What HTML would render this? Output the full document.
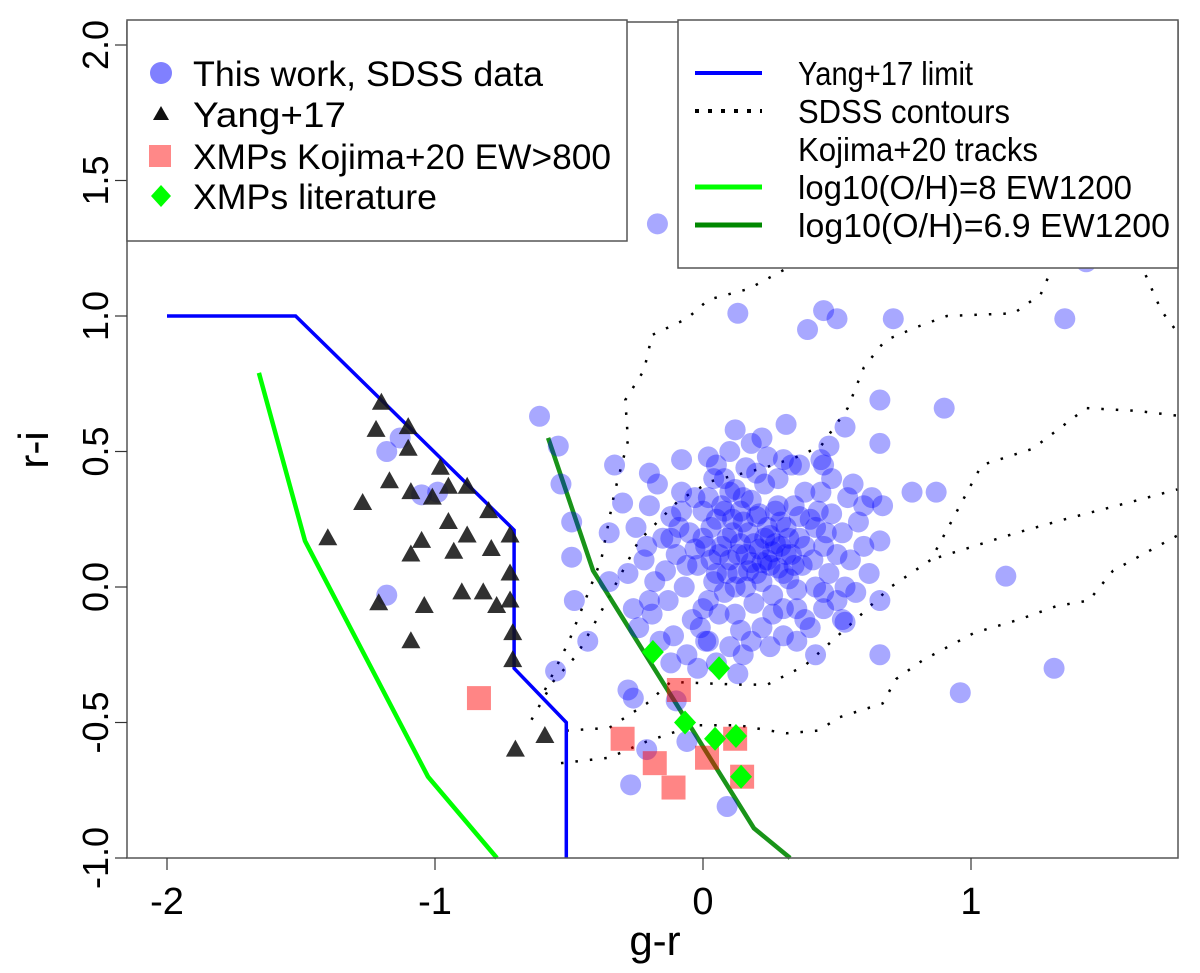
<!DOCTYPE html>
<html><head><meta charset="utf-8"><style>
html,body{margin:0;padding:0;background:#fff;}
svg{display:block;font-family:"Liberation Sans",sans-serif;}
</style></head><body>
<svg id="chart" width="1200" height="973" viewBox="0 0 1200 973">
<rect x="0" y="0" width="1200" height="973" fill="#fff"/>
<g id="contours"></g>
<g id="lines"></g>
<g id="circles"></g>
<g id="tris"></g>
<g id="squares"></g>
<g id="diamonds"></g>
<g id="axes"></g>
<g>
<rect x="127" y="20" width="500" height="221" fill="#fff" stroke="#555" stroke-width="1.5"/>
<circle cx="161" cy="73" r="11" fill="rgba(60,60,255,0.65)"/>
<text x="193" y="86" font-size="35" textLength="350" lengthAdjust="spacingAndGlyphs">This work, SDSS data</text>
<polygon points="161,106 153,120 169,120" fill="#111"/>
<text x="193" y="127" font-size="35" textLength="153" lengthAdjust="spacingAndGlyphs">Yang+17</text>
<rect x="149" y="145" width="22" height="22" fill="#f88" />
<text x="193" y="169" font-size="35" textLength="418" lengthAdjust="spacingAndGlyphs">XMPs Kojima+20 EW&gt;800</text>
<polygon points="161,185 171,196 161,207 151,196" fill="#0f0"/>
<text x="193" y="209" font-size="35" textLength="244" lengthAdjust="spacingAndGlyphs">XMPs literature</text>
</g>
<g>
<rect x="678" y="20" width="500" height="248" fill="#fff" stroke="#555" stroke-width="1.5"/>
<line x1="695" y1="73" x2="762" y2="73" stroke="#00f" stroke-width="4"/>
<text x="798" y="85" font-size="33" textLength="175" lengthAdjust="spacingAndGlyphs">Yang+17 limit</text>
<line x1="695" y1="111" x2="762" y2="111" stroke="#000" stroke-width="4" stroke-dasharray="4 9"/>
<text x="798" y="123" font-size="33" textLength="212" lengthAdjust="spacingAndGlyphs">SDSS contours</text>
<text x="798" y="161" font-size="33" textLength="240" lengthAdjust="spacingAndGlyphs">Kojima+20 tracks</text>
<line x1="695" y1="187" x2="762" y2="187" stroke="#0f0" stroke-width="5"/>
<text x="798" y="199" font-size="33" textLength="334" lengthAdjust="spacingAndGlyphs">log10(O/H)=8 EW1200</text>
<line x1="695" y1="225" x2="762" y2="225" stroke="#080" stroke-width="5"/>
<text x="798" y="237" font-size="33" textLength="372" lengthAdjust="spacingAndGlyphs">log10(O/H)=6.9 EW1200</text>
</g>
<text x="655" y="955" font-size="42" text-anchor="middle">g-r</text>
<text x="0" y="0" font-size="42" text-anchor="middle" transform="translate(48,450) rotate(-90)">r-i</text>
</svg>
<script>
const xTicks=[-2,-1,0,1];
const yTicks=[-1.0,-0.5,0.0,0.5,1.0,1.5,2.0];
const yTickLabels=["-1.0","-0.5","0.0","0.5","1.0","1.5","2.0"];
const yangLimit=[[-2.0,1.0],[-1.52,1.0],[-0.705,0.21],[-0.705,-0.3],[-0.51,-0.5],[-0.51,-1.0]];
const trackOH8=[[-1.657,0.79],[-1.485,0.17],[-1.026,-0.70],[-0.769,-1.0]];
const trackOH69=[[-0.578,0.55],[-0.41,0.06],[0.19,-0.89],[0.325,-1.0]];
const yangPts=[[-1.20,0.68],[-1.22,0.58],[-1.10,0.59],[-1.10,0.51],[-0.98,0.44],[-1.17,0.39],[-1.09,0.35],[-1.01,0.33],[-0.95,0.37],[-0.88,0.37],[-1.27,0.31],[-0.80,0.28],[-0.95,0.24],[-0.88,0.19],[-0.72,0.19],[-1.05,0.17],[-1.09,0.12],[-0.93,0.13],[-0.79,0.14],[-1.40,0.18],[-0.72,0.05],[-0.90,-0.02],[-0.82,-0.02],[-0.72,-0.05],[-0.77,-0.07],[-1.21,-0.06],[-1.04,-0.07],[-1.09,-0.20],[-0.71,-0.17],[-0.71,-0.27],[-0.59,-0.55],[-0.70,-0.60]];
const kojimaPts=[[-0.836,-0.41],[-0.30,-0.56],[-0.18,-0.65],[-0.11,-0.74],[0.015,-0.63],[-0.09,-0.38],[0.12,-0.56],[0.146,-0.70]];
const litPts=[[-0.187,-0.24],[0.06,-0.30],[-0.067,-0.50],[0.045,-0.56],[0.123,-0.55],[0.142,-0.70]];
const sdssOutliers=[[-0.17,1.34],[0.13,1.01],[0.39,0.95],[0.45,1.02],[0.50,0.99],[0.71,0.99],[1.35,0.99],[1.43,1.20],[-0.61,0.63],[-0.54,0.52],[-0.53,0.38],[-0.49,0.24],[-0.49,0.11],[-0.48,-0.05],[-0.55,-0.31],[-1.13,0.55],[-1.18,0.50],[-1.05,0.34],[-0.99,0.35],[-1.18,-0.03],[-0.43,-0.20],[-0.35,0.02],[-0.28,-0.38],[-0.26,-0.41],[-0.27,-0.73],[-0.21,-0.60],[-0.06,-0.57],[-0.10,-0.42],[0.09,-0.81],[0.01,-0.20],[0.13,-0.32],[0.90,0.66],[1.13,0.04],[1.31,-0.30],[0.96,-0.39],[0.66,0.17],[0.67,0.30],[0.78,0.35],[0.87,0.35],[0.66,0.53],[0.66,0.69],[0.53,0.59],[0.44,0.47],[0.31,0.60],[0.53,-0.13],[0.66,-0.05],[0.66,-0.25]];
const sdssCluster=[[-0.30,0.31],[-0.25,0.22],[-0.22,0.10],[-0.20,0.30],[-0.18,0.02],[-0.15,0.18],[-0.13,-0.05],[-0.12,0.26],[-0.10,0.12],[-0.08,0.35],[-0.07,0.00],[-0.05,0.20],[-0.04,-0.12],[-0.02,0.08],[0.00,0.28],[0.01,0.15],[0.02,-0.05],[0.03,0.22],[0.04,0.40],[0.05,0.05],[0.06,0.12],[0.07,0.30],[0.08,-0.02],[0.09,0.18],[0.10,0.10],[0.11,0.25],[0.12,-0.10],[0.13,0.05],[0.14,0.16],[0.15,0.33],[0.16,0.00],[0.17,0.20],[0.18,0.09],[0.19,-0.06],[0.20,0.26],[0.21,0.14],[0.22,0.02],[0.23,0.38],[0.24,0.10],[0.25,0.19],[0.26,-0.03],[0.27,0.28],[0.28,0.07],[0.29,0.15],[0.30,-0.08],[0.31,0.22],[0.32,0.03],[0.33,0.12],[0.34,0.30],[0.35,-0.01],[0.36,0.18],[0.37,0.08],[0.38,-0.12],[0.40,0.25],[0.41,0.10],[0.42,0.00],[0.44,0.35],[0.45,0.15],[0.47,0.05],[0.48,0.27],[0.50,-0.05],[0.52,0.20],[0.54,0.33],[0.55,0.10],[0.58,0.24],[0.60,0.15],[0.62,0.05],[0.63,0.33],
[-0.28,0.05],[-0.26,-0.08],[-0.24,-0.15],[-0.21,0.15],[-0.19,-0.10],[-0.17,0.38],[-0.16,-0.20],[-0.14,0.06],[-0.11,-0.18],[-0.09,0.22],[-0.06,-0.25],[-0.03,0.33],[-0.01,-0.15],[0.02,-0.20],[0.05,0.45],[0.06,-0.10],[0.08,0.40],[0.10,-0.22],[0.12,0.36],[0.14,-0.16],[0.16,0.44],[0.18,-0.20],[0.20,0.42],[0.22,-0.15],[0.24,0.48],[0.26,-0.10],[0.28,0.40],[0.30,-0.18],[0.33,0.45],[0.35,-0.08],[0.38,0.35],[0.40,-0.15],[0.43,0.28],[0.45,-0.08],[0.48,0.40],[0.50,0.12],[0.52,-0.12],[0.56,0.38],[0.57,-0.02],[0.60,0.30],
[0.00,0.18],[0.03,0.10],[0.05,0.25],[0.07,0.15],[0.09,0.05],[0.11,0.20],[0.13,0.12],[0.15,0.24],[0.17,0.06],[0.19,0.16],[0.21,0.27],[0.23,0.18],[0.25,0.08],[0.27,0.16],[0.29,0.24],[0.31,0.12],[0.04,0.02],[-0.03,0.14],[-0.06,0.08],[0.08,0.28],[0.12,0.00],[0.16,0.12],[0.20,0.05],[0.24,0.22],[0.28,0.30],[0.32,0.18],[0.36,0.26],[0.02,0.33],[-0.08,0.28],[-0.12,0.18],[0.10,0.35],[0.14,0.28],[0.18,0.32],[0.22,0.09],[0.26,0.13],[0.30,0.05],[0.34,0.08],[0.38,0.15],[0.42,0.22],[0.46,0.20],
[-0.08,0.47],[0.02,0.48],[0.10,0.50],[0.18,0.53],[0.22,0.55],[0.30,0.47],[0.36,0.45],[0.47,0.52],[0.12,0.58],[0.45,0.45],[-0.20,0.42],[-0.35,0.20],[-0.33,0.45],
[-0.12,-0.28],[-0.02,-0.30],[0.05,-0.28],[0.15,-0.25],[0.25,-0.22],[0.35,-0.20],[0.42,-0.25],[-0.20,-0.05],[0.00,-0.08],[0.45,-0.02],[0.53,0.00]];
const contour1=[[-0.59,-0.38],[-0.50,-0.20],[-0.38,0.10],[-0.33,0.35],[-0.28,0.54],[-0.29,0.69],[-0.22,0.80],[-0.19,0.93],[-0.06,0.99],[0.02,1.06],[0.17,1.10],[0.32,1.18]];
const contour1b=[[1.63,1.20],[1.71,1.02],[1.77,0.94]];
const contour2=[[-0.64,-0.49],[-0.56,-0.35],[-0.47,-0.25],[-0.38,-0.09],[-0.24,0.17],[-0.09,0.32],[0.03,0.39],[0.23,0.44],[0.35,0.48],[0.44,0.52],[0.54,0.66],[0.60,0.81],[0.68,0.91],[0.80,0.96],[0.91,1.00],[1.16,1.01],[1.26,1.08],[1.30,1.17]];
const contour3=[[-0.53,-0.65],[-0.35,-0.63],[-0.21,-0.57],[-0.03,-0.51],[0.13,-0.51],[0.31,-0.54],[0.43,-0.53],[0.51,-0.48],[0.67,-0.43],[0.72,-0.34],[0.82,-0.27],[1.01,-0.17],[1.18,-0.12],[1.32,-0.07],[1.44,-0.05],[1.53,0.06],[1.77,0.19]];
const contour4=[[-0.51,-0.53],[-0.35,-0.52],[-0.21,-0.43],[-0.12,-0.35],[0.13,-0.36],[0.24,-0.36],[0.38,-0.29],[0.57,-0.12],[0.70,0.00],[0.85,0.10],[1.04,0.45],[1.23,0.51],[1.35,0.60],[1.43,0.66],[1.62,0.65],[1.79,0.63]];
const contour5=[[0.88,0.11],[1.17,0.20],[1.35,0.25],[1.62,0.32],[1.77,0.36]];

const NS='http://www.w3.org/2000/svg';
const PL=127,PR=1178,PT=22,PB=858;
function X(v){return 703+v*268;}
function Y(v){return 587-v*271;}
function mk(tag,attrs,parent){const e=document.createElementNS(NS,tag);for(const k in attrs)e.setAttribute(k,attrs[k]);parent.appendChild(e);return e;}
function pts(arr){return arr.map(p=>X(p[0]).toFixed(1)+','+Y(p[1]).toFixed(1)).join(' ');}

const gC=document.getElementById('contours');
[contour1,contour1b,contour2,contour3,contour4,contour5].forEach(c=>{
  const e=mk('polyline',{points:pts(c),fill:'none',stroke:'#000','stroke-width':2.5,'stroke-dasharray':'2.5 12'},gC);
  
  
});
const gL=document.getElementById('lines');
const l1=mk('polyline',{points:pts(yangLimit),fill:'none',stroke:'#00f','stroke-width':3.5},gL);


const l2=mk('polyline',{points:pts(trackOH8),fill:'none',stroke:'#0f0','stroke-width':4.5},gL);


const l3=mk('polyline',{points:pts(trackOH69),fill:'none',stroke:'#080','stroke-width':4.5,'stroke-opacity':0.9},gL);



const gCi=document.getElementById('circles');
sdssOutliers.concat(sdssCluster).forEach(p=>{
  const e=mk('circle',{cx:X(p[0]),cy:Y(p[1]),r:10.5,fill:'rgba(0,0,255,0.34)'},gCi);
  
  
});
const gT=document.getElementById('tris');
yangPts.forEach(p=>{
  const x=X(p[0]),y=Y(p[1]);
  const e=mk('polygon',{points:`${x},${y-10} ${x-9.5},${y+7} ${x+9.5},${y+7}`,fill:'rgba(20,20,20,0.88)'},gT);
  
  
});
const gS=document.getElementById('squares');
kojimaPts.forEach(p=>{
  const e=mk('rect',{x:X(p[0])-12,y:Y(p[1])-12,width:24,height:24,fill:'rgba(255,0,0,0.48)'},gS);
  
  
});
const gD=document.getElementById('diamonds');
litPts.forEach(p=>{
  const x=X(p[0]),y=Y(p[1]);
  const e=mk('polygon',{points:`${x},${y-12} ${x+11},${y} ${x},${y+12} ${x-11},${y}`,fill:'#0f0'},gD);
  
  
});

const gA=document.getElementById('axes');
const box=mk('rect',{x:PL,y:PT,width:PR-PL,height:PB-PT,fill:'none',stroke:'#555','stroke-width':1.5},gA);


xTicks.forEach(v=>{
  mk('line',{x1:X(v),y1:PB,x2:X(v),y2:PB+12,stroke:'#333','stroke-width':1.2},gA);
  const t=mk('text',{x:X(v),y:PB+56,'font-size':38,'text-anchor':'middle'},gA);
  t.textContent=String(v);
  
  
});
yTicks.forEach((v,i)=>{
  mk('line',{x1:PL-12,y1:Y(v),x2:PL,y2:Y(v),stroke:'#333','stroke-width':1.2},gA);
  const t=mk('text',{x:0,y:0,'font-size':36,'text-anchor':'middle',transform:`translate(108,${Y(v)}) rotate(-90)`},gA);
  t.textContent=yTickLabels[i];
  
  
});
</script>
</body></html>
